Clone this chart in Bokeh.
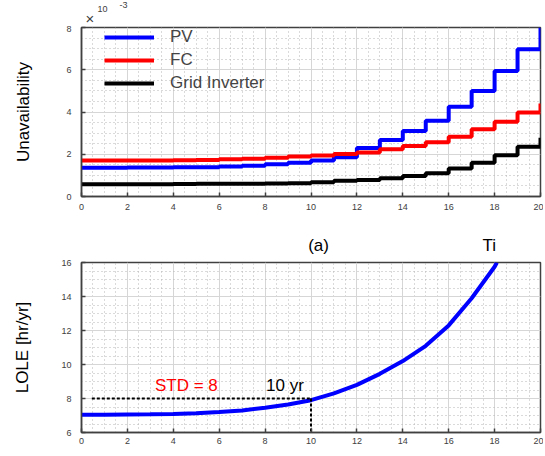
from bokeh.plotting import figure
from bokeh.layouts import column
from bokeh.models import Range1d, Label, SingleIntervalTicker
from bokeh.embed import file_html
from bokeh.resources import INLINE

# ---------------- data ----------------
years = list(range(0, 21))
pv = [1.36, 1.36, 1.37, 1.37, 1.38, 1.39, 1.42, 1.46, 1.53, 1.60, 1.70,
      1.86, 2.30, 2.67, 3.10, 3.58, 4.25, 4.99, 5.94, 6.97, 8.00]
fc = [1.70, 1.70, 1.70, 1.71, 1.72, 1.73, 1.76, 1.79, 1.84, 1.89, 1.94,
      2.01, 2.08, 2.24, 2.39, 2.57, 2.83, 3.18, 3.54, 3.98, 4.40]
grid_inv = [0.58, 0.58, 0.58, 0.58, 0.59, 0.60, 0.60, 0.60, 0.61, 0.63, 0.68,
            0.74, 0.78, 0.86, 0.97, 1.10, 1.32, 1.60, 1.95, 2.36, 2.78]

lole_years = [0, 1, 2, 3, 4, 5, 6, 7, 8, 9, 10, 11, 12, 13, 14, 15, 16, 17, 18, 18.1]
lole = [7.05, 7.05, 7.06, 7.07, 7.09, 7.13, 7.20, 7.30, 7.45, 7.65, 7.90,
        8.30, 8.80, 9.45, 10.20, 11.10, 12.30, 13.90, 15.75, 16.00]

std_x = [0.45, 10.0]
std_y = [8.0, 8.0]
cross_x = [10.0, 10.0]
cross_y = [8.0, 6.0]

FONT = "Liberation Sans"
AX = "#404040"
W = 543
LEFT = 81
RIGHT = 3


def style(p):
    p.outline_line_color = AX
    p.outline_line_width = 1.5
    p.outline_line_alpha = 1.0
    for ax in p.axis:
        ax.major_tick_in = 4
        ax.major_tick_out = 0
        ax.minor_tick_in = 0
        ax.minor_tick_out = 0
        ax.axis_line_color = AX
        ax.axis_line_width = 1.5
        ax.major_tick_line_color = AX
        ax.major_tick_line_width = 1.5
        ax.major_label_text_font = FONT
        ax.major_label_text_font_size = "9px"
        ax.major_label_text_color = "#404040"
        ax.axis_label_text_font = FONT
        ax.axis_label_text_font_style = "normal"
        ax.axis_label_text_font_size = "17px"
        ax.axis_label_text_color = "black"
    for g in p.grid:
        g.grid_line_color = "#d6d6d6"
        g.grid_line_width = 1
        g.minor_grid_line_color = "#b4b4b4"
        g.minor_grid_line_dash = "1 3"
        g.minor_grid_line_width = 1


def strip(height):
    s = figure(width=W, height=height, output_backend="svg", toolbar_location=None,
               x_range=Range1d(0, 20), y_range=Range1d(0, height),
               x_axis_type=None, y_axis_type=None,
               min_border_left=LEFT, min_border_right=RIGHT,
               min_border_top=0, min_border_bottom=0)
    s.grid.visible = False
    s.outline_line_color = None
    return s


# ---------------- header strip (x10^-3 multiplier) ----------------
head = strip(25)
head.add_layout(Label(x=0.17, y=7.5, text="\u00d7", text_font=FONT, text_font_size="15px",
                      text_color=AX, text_baseline="middle", text_align="left"))
head.add_layout(Label(x=0.70, y=17, text="10", text_font=FONT, text_font_size="9px",
                      text_color=AX, text_baseline="middle", text_align="left"))
head.add_layout(Label(x=1.66, y=21, text="-3", text_font=FONT, text_font_size="9px",
                      text_color=AX, text_baseline="middle", text_align="left"))

# ---------------- top panel ----------------
p1 = figure(width=W, height=197, output_backend="svg", toolbar_location=None,
            x_range=Range1d(0, 20), y_range=Range1d(0, 8),
            min_border_left=LEFT, min_border_right=RIGHT, min_border_top=2,
            min_border_bottom=26)
p1.xaxis.ticker = SingleIntervalTicker(interval=2, num_minor_ticks=4)
p1.yaxis.ticker = SingleIntervalTicker(interval=2, num_minor_ticks=4)

p1.step(years, pv, mode="after", line_color="#0000ff", line_width=4, legend_label="PV")
p1.step(years, fc, mode="after", line_color="#ff0000", line_width=4, legend_label="FC")
p1.step(years, grid_inv, mode="after", line_color="black", line_width=4,
        legend_label="Grid Inverter")

p1.yaxis.axis_label = "Unavailability"
style(p1)
p1.yaxis.major_label_standoff = 10
p1.yaxis.axis_label_standoff = 30
p1.xaxis.major_label_standoff = 7

leg = p1.legend[0]
leg.location = (23, 103)
leg.background_fill_alpha = 0
leg.border_line_alpha = 0
leg.padding = 0
leg.margin = 0
leg.spacing = 3
leg.glyph_width = 50
leg.glyph_height = 20
leg.label_height = 20
leg.label_standoff = 16
leg.label_text_font = FONT
leg.label_text_font_size = "17px"
leg.label_text_line_height = 1.0
leg.label_text_baseline = "middle"

# ---------------- middle strip: caption texts ----------------
mid = strip(36)
mid.add_layout(Label(x=10.33, y=13, text="(a)", text_font=FONT, text_font_size="17px",
                     text_color="black", text_baseline="middle", text_align="center"))
mid.add_layout(Label(x=17.47, y=13, text="Ti", text_font=FONT, text_font_size="17px",
                     text_color="black", text_baseline="middle", text_align="left"))

# ---------------- bottom panel ----------------
p2 = figure(width=W, height=196, output_backend="svg", toolbar_location=None,
            x_range=Range1d(0, 20), y_range=Range1d(6, 16),
            min_border_left=LEFT, min_border_right=RIGHT, min_border_top=4,
            min_border_bottom=22)
p2.xaxis.ticker = SingleIntervalTicker(interval=2, num_minor_ticks=4)
p2.yaxis.ticker = SingleIntervalTicker(interval=2, num_minor_ticks=4)

p2.line(lole_years, lole, line_color="#0000ff", line_width=4)
p2.line(std_x, std_y, line_color="black", line_width=2, line_dash="3 2")
p2.line(cross_x, cross_y, line_color="black", line_width=2, line_dash="3 2")

p2.add_layout(Label(x=3.2, y=8.79, text="STD = 8", text_font=FONT, text_font_size="17px",
                    text_color="#ff0000", text_baseline="middle", text_align="left"))
p2.add_layout(Label(x=8.04, y=8.79, text="10 yr", text_font=FONT, text_font_size="17px",
                    text_color="black", text_baseline="middle", text_align="left"))

p2.yaxis.axis_label = "LOLE [hr/yr]"
style(p2)
p2.yaxis.major_label_standoff = 10
p2.yaxis.axis_label_standoff = 26
p2.xaxis.major_label_standoff = 5

layout = column(head, p1, mid, p2, spacing=0)
open("out.html", "w").write(file_html(layout, INLINE))
